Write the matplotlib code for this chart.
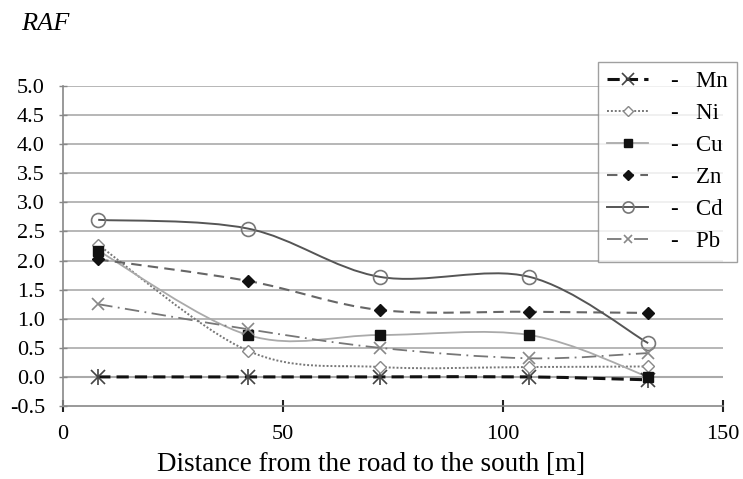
import matplotlib.pyplot as plt
import numpy as np
from matplotlib.path import Path
from matplotlib.patches import PathPatch
from matplotlib.lines import Line2D

plt.rcParams['font.family'] = ['Liberation Serif', 'DejaVu Serif']

distance = [8, 42, 72, 106, 133]
metals = ['Mn', 'Ni', 'Cu', 'Zn', 'Cd', 'Pb']
mn = [0.0, 0.0, 0.0, 0.0, -0.05]
ni = [2.27, 0.45, 0.17, 0.17, 0.18]
cu = [2.17, 0.72, 0.72, 0.72, 0.0]
zn = [2.02, 1.65, 1.15, 1.12, 1.10]
cd = [2.70, 2.55, 1.72, 1.72, 0.58]
pb = [1.25, 0.82, 0.50, 0.32, 0.41]


def smooth_path(x, y):
    # Excel-like smoothed line: cubic bezier through points
    x = np.asarray(x, float)
    y = np.asarray(y, float)
    n = len(x)
    verts = [(x[0], y[0])]
    codes = [Path.MOVETO]
    for i in range(n - 1):
        i0 = max(i - 1, 0)
        i3 = min(i + 2, n - 1)
        c1 = (x[i] + (x[i + 1] - x[i0]) / 6, y[i] + (y[i + 1] - y[i0]) / 6)
        c2 = (x[i + 1] - (x[i3] - x[i]) / 6, y[i + 1] - (y[i3] - y[i]) / 6)
        verts += [c1, c2, (x[i + 1], y[i + 1])]
        codes += [Path.CURVE4] * 3
    return Path(verts, codes)


fig = plt.figure(figsize=(7.43, 4.79), dpi=100)
ax = fig.add_axes([63 / 743, 1 - 406 / 479, 660 / 743, 320 / 479])

styles = {
    'Mn': dict(data=mn, color='#111111', ls=(0, (4, 2)), lw=2.2, marker='x', ms=10, mfc='none', mec='#444444', mew=1.2),
    'Ni': dict(data=ni, color='#777777', ls=(0, (1, 1)), lw=1.4, marker='D', ms=6, mfc='white', mec='#888888', mew=1.0),
    'Cu': dict(data=cu, color='#aaaaaa', ls='-', lw=1.3, marker='s', ms=7, mfc='#111111', mec='#111111', mew=1.0),
    'Zn': dict(data=zn, color='#666666', ls=(0, (5, 3)), lw=1.5, marker='D', ms=6, mfc='#111111', mec='#111111', mew=1.0),
    'Cd': dict(data=cd, color='#555555', ls='-', lw=1.4, marker='o', ms=10, mfc='none', mec='#777777', mew=1.2),
    'Pb': dict(data=pb, color='#777777', ls=(0, (8, 3, 1, 3)), lw=1.3, marker='x', ms=8, mfc='none', mec='#888888', mew=1.2),
}

ax.axhline(0, color='#aaaaaa', lw=1.5, zorder=1)
for y in np.arange(0.5, 5.01, 0.5):
    ax.axhline(y, color='#aaaaaa', lw=1.2, zorder=1)

handles = []
for name in metals:
    s = styles[name]
    patch = PathPatch(smooth_path(distance, s['data']), fill=False, edgecolor=s['color'],
                      lw=s['lw'], linestyle=s['ls'], zorder=3)
    ax.add_patch(patch)
    ax.plot(distance, s['data'], ls='none', marker=s['marker'], ms=s['ms'],
            mfc=s['mfc'], mec=s['mec'], mew=s['mew'], zorder=4)
    if name == 'Mn':
        # asterisk marker: x plus a vertical stroke
        ax.plot(distance, s['data'], ls='none', marker='|', ms=12,
                mec=s['mec'], mew=1.2, zorder=4)
    handles.append(Line2D([], [], color=s['color'], ls=s['ls'], lw=s['lw'], marker=s['marker'],
                          ms=s['ms'] * 0.8, mfc=s['mfc'], mec=s['mec'], mew=s['mew']))

ax.set_xlim(0, 150)
ax.set_ylim(-0.5, 5.0)
ax.set_xticks([0, 50, 100, 150])
ax.set_yticks(np.arange(-0.5, 5.01, 0.5))
ax.set_yticklabels([f'{v:.1f}' for v in np.arange(-0.5, 5.01, 0.5)])
for sp in ['top', 'right']:
    ax.spines[sp].set_visible(False)
ax.spines['left'].set_color('#888888')
ax.spines['bottom'].set_color('#888888')
ax.spines['left'].set_linewidth(1.2)
ax.spines['bottom'].set_linewidth(1.2)
ax.tick_params(axis='y', length=6, width=1.0, color='#888888', direction='inout', labelsize=16, pad=10)
ax.tick_params(axis='x', length=8, width=1.5, color='#222222', direction='inout', labelsize=16, pad=10)

fig.text(371 / 743, 1 - 471 / 479, 'Distance from the road to the south [m]', fontsize=19.5,
         ha='center', va='baseline')
fig.text(21 / 743, 1 - 24 / 479, 'RAF', fontsize=19, style='italic', va='center')

leg = fig.legend(handles, ['-   ' + m for m in metals], loc='upper left',
                 bbox_to_anchor=(598 / 743, 1 - 62 / 479), frameon=True, fancybox=False,
                 fontsize=16.5, handlelength=1.8, handletextpad=1.0, labelspacing=0.48,
                 borderpad=0.4, borderaxespad=0)
leg.get_frame().set_edgecolor('#888888')
leg.get_frame().set_linewidth(1.0)

fig.savefig('out.png', dpi=100)
